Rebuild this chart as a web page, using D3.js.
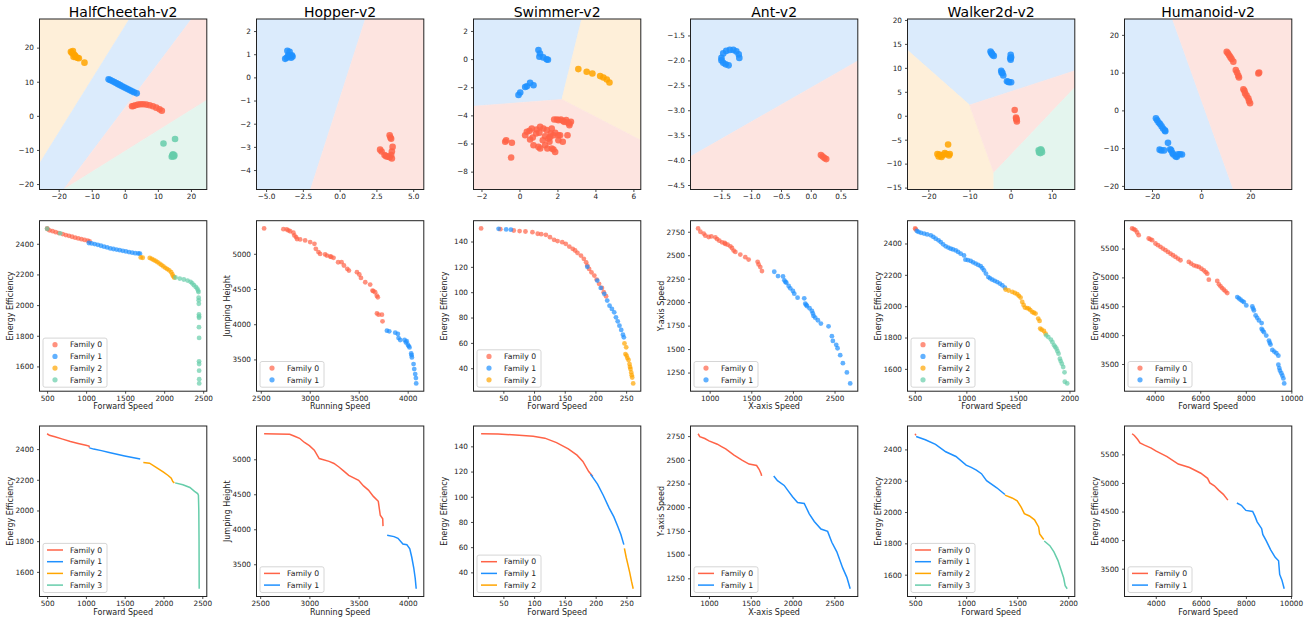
<!DOCTYPE html>
<html><head><meta charset="utf-8">
<script src="https://cdn.jsdelivr.net/npm/d3@7"></script>
<style>body{margin:0;background:#fff;} svg text{font-family:"DejaVu Sans",sans-serif;}</style>
</head><body><svg id="c" width="1315" height="617"></svg>
<script>
// ---------- shared ----------
const envNames = ["HalfCheetah-v2","Hopper-v2","Swimmer-v2","Ant-v2","Walker2d-v2","Humanoid-v2"];
const xLabels = ["Forward Speed","Running Speed","Forward Speed","X-axis Speed","Forward Speed","Forward Speed"];
const yLabels = ["Energy Efficiency","Jumping Height","Energy Efficiency","Y-axis Speed","Energy Efficiency","Energy Efficiency"];
const familyNames = ["Family 0","Family 1","Family 2","Family 3"];
const familyColors = ["#FF6347","#1E90FF","#FFA500","#66CDAA"];
const regionColors = ["#FDE4E0","#DBEBFC","#FEEFD9","#E4F5EE"];

// ---------- top row: embeddings ----------
const hcEXLim = [-25.8,24.8], hcEYLim = [-21.6,28.4];
const hcEXT = [-20,-10,0,10,20], hcEYT = [-20,-10,0,10,20];
const hcEmbed0 = [[2.2,2.8],[2.6,2.9],[3.2,3.1],[4,3.3],[4.8,3.4],[5.6,3.4],[6.5,3.3],[7.5,3.1],[8.5,2.8],[9.5,2.4],[10.5,1.9],[11.2,1.5]];
const hcEmbed1 = [[-4.9,10.7],[-4.4,10.5],[-3.8,10.2],[-3.2,9.9],[-2.6,9.6],[-2,9.3],[-1.4,9],[-0.8,8.7],[-0.2,8.4],[0.4,8.1],[1,7.8],[1.6,7.5],[2.2,7.2],[2.8,6.9],[3.6,6.6]];
const hcEmbed2 = [[-16.3,18.8],[-16,18.4],[-15.7,19],[-15.3,18],[-15,17.6],[-14.8,17.2],[-14.3,17],[-13.9,16.9],[-15.5,17.3],[-12.2,15.6]];
const hcEmbed3 = [[11.7,-8.1],[15.2,-6.8],[14.4,-11.5],[14.8,-11.9],[14.2,-12],[14.6,-11.3],[15,-11.6],[14.5,-11.7]];
const hcRegions = [
  [2,[[-25.8,-14],[1.4,28.4],[-25.8,28.4]]],
  [1,[[-25.8,-21.6],[-25.8,-14],[1.4,28.4],[20.2,28.4],[-18.5,-21.6]]],
  [0,[[-18.5,-21.6],[20.2,28.4],[24.8,28.4],[24.8,4.6]]],
  [3,[[-18.5,-21.6],[24.8,4.6],[24.8,-21.6]]]
];

const hpEXLim = [-5.65,5.72], hpEYLim = [-4.84,2.52];
const hpEXT = [-5,-2.5,0,2.5,5], hpEYT = [-4,-3,-2,-1,0,1,2];
const hpEmbed0 = [[3.4,-2.5],[3.5,-2.65],[3.45,-2.6],[3.6,-3.0],[3.55,-3.2],[3.5,-3.35],[3.4,-3.45],[3.25,-3.42],[3.05,-3.35],[2.85,-3.2],[2.75,-3.12],[3.55,-3.5],[3.15,-3.4]];
const hpEmbed1 = [[-3.55,1.15],[-3.4,1.1],[-3.5,0.95],[-3.25,0.95],[-3.3,0.85],[-3.6,0.85],[-3.7,0.8],[-3.45,0.9],[-3.2,0.9]];
const hpRegions = [
  [1,[[-5.65,-4.84],[-1.98,-4.84],[1.75,2.52],[-5.65,2.52]]],
  [0,[[-1.98,-4.84],[5.72,-4.84],[5.72,2.52],[1.75,2.52]]]
];

const swEXLim = [-2.42,6.39], swEYLim = [-9.27,2.85];
const swEXT = [-2,0,2,4,6], swEYT = [-8,-6,-4,-2,0,2];
const swEmbed0 = [[-0.75,-5.88],[-0.7,-5.77],[-0.4,-5.95],[-0.44,-7.0],[0.3,-5.41],[0.39,-5.17],[0.53,-5.1],[0.65,-4.93],[0.56,-5.72],[0.7,-5.57],[0.74,-6.12],[0.88,-5.29],[0.91,-5.0],[1.05,-5.24],[1.09,-4.82],[1.23,-5.77],[1.26,-4.93],[1.35,-5.48],[1.44,-5.05],[1.53,-5.65],[1.58,-5.88],[1.62,-5.53],[1.7,-4.93],[1.65,-5.29],[1.79,-5.41],[1.88,-5.24],[1.83,-4.29],[1.97,-4.29],[2.05,-4.34],[2.18,-4.29],[2.28,-4.39],[2.35,-4.46],[2.46,-4.34],[2.53,-4.51],[2.63,-4.58],[2.71,-4.46],[2.63,-4.7],[2.05,-5.41],[2.05,-5.77],[2.14,-5.41],[2.28,-5.88],[2.53,-5.41],[1.35,-6.12],[1.47,-6.36],[1.7,-6.36],[1.79,-6.43],[1.88,-6.6],[1.0,-6.24],[1.09,-6.36]];
const swEmbed1 = [[1.0,0.64],[1.08,0.4],[1.05,0.17],[1.25,0.12],[1.43,-0.02],[1.5,-0.05],[0.56,-1.69],[0.74,-1.86],[0.39,-1.93],[0.3,-1.98],[0.04,-2.38],[-0.05,-2.55]];
const swEmbed2 = [[3.1,-0.71],[3.54,-0.9],[3.84,-1.02],[4.25,-1.21],[4.42,-1.31],[4.6,-1.45],[4.74,-1.66]];
const swRegions = [
  [1,[[-2.42,-3.35],[2.23,-2.87],[3.28,2.85],[-2.42,2.85]]],
  [2,[[2.23,-2.87],[6.39,-5.77],[6.39,2.85],[3.28,2.85]]],
  [0,[[-2.42,-9.27],[6.39,-9.27],[6.39,-5.77],[2.23,-2.87],[-2.42,-3.35]]]
];

const anEXLim = [-2.02,0.79], anEYLim = [-4.59,-1.17];
const anEXT = [-1.5,-1.0,-0.5,0.0,0.5], anEYT = [-4.5,-4.0,-3.5,-3.0,-2.5,-2.0,-1.5];
const anEmbed0 = [[0.17,-3.9],[0.2,-3.93],[0.23,-3.96],[0.26,-3.98]];
const anEmbed1 = [[-1.47,-1.86],[-1.42,-1.81],[-1.36,-1.79],[-1.3,-1.79],[-1.25,-1.82],[-1.21,-1.88],[-1.2,-1.95],[-1.5,-1.95],[-1.5,-2.0],[-1.47,-2.05],[-1.43,-2.08],[-1.38,-2.1]];
const anRegions = [
  [1,[[-2.02,-3.93],[0.79,-2.01],[0.79,-1.17],[-2.02,-1.17]]],
  [0,[[-2.02,-4.59],[0.79,-4.59],[0.79,-2.01],[-2.02,-3.93]]]
];

const wkEXLim = [-25.06,15.57], wkEYLim = [-15.4,20.2];
const wkEXT = [-20,-10,0,10], wkEYT = [-15,-10,-5,0,5,10,15,20];
const wkEmbed0 = [[0.98,1.2],[1.3,-0.4],[1.4,-0.8],[1.5,-1.2],[1.35,-0.6]];
const wkEmbed1 = [[-4.9,13.4],[-4.7,13.1],[-4.4,12.7],[-4.1,12.5],[-4.6,13.0],[0,12.7],[0.1,12.2],[0,11.7],[-0.1,12.0],[-2.3,9.4],[-2.0,8.9],[-1.8,8.4],[-2.2,9.0],[-0.9,7.2],[-0.4,7.0],[0.1,7.0],[-0.6,7.1]];
const wkEmbed2 = [[-15.2,-6],[-17.8,-8],[-17.3,-8.1],[-16.8,-8.6],[-17,-8.3],[-16,-7.8],[-15.6,-8.0],[-14.8,-8.0],[-15,-8.3],[-16.4,-8.2],[-17.5,-8.5]];
const wkEmbed3 = [[6.8,-7.2],[7.5,-7.2],[7.2,-7.8],[7,-7.5],[7.6,-7.6],[6.9,-7.7],[7.3,-7.0]];
const wkRegions = [
  [1,[[-25.06,13.7],[-9.97,2.24],[15.57,9.4],[15.57,20.2],[-25.06,20.2]]],
  [2,[[-25.06,-15.4],[-4.1,-15.4],[-4.1,-11.9],[-9.97,2.24],[-25.06,13.7]]],
  [0,[[-9.97,2.24],[-4.1,-11.9],[15.57,5.9],[15.57,9.4]]],
  [3,[[-4.1,-15.4],[15.57,-15.4],[15.57,5.9],[-4.1,-11.9]]]
];

const hmEXLim = [-31.2,36.9], hmEYLim = [-20.95,24.2];
const hmEXT = [-20,0,20], hmEYT = [-20,-10,0,10,20];
const hmEmbed0 = [[10.4,15.5],[10.9,15.1],[11.4,14.6],[11.9,14.1],[12.4,13.6],[13.1,12.9],[14.1,10.7],[14.6,10],[15.1,9.2],[15.4,8.7],[17.2,5.6],[17.6,5.2],[17.9,4.5],[18.5,3.9],[19.2,3.2],[19.5,2.5],[19.9,1.9],[23.6,10],[23.3,9.8]];
const hmEmbed1 = [[-18.4,-2.1],[-17.9,-2.6],[-17.3,-3.2],[-16.7,-3.6],[-16.1,-4.2],[-15.5,-4.8],[-14.8,-5.3],[-14.6,-5.5],[-13.5,-8.6],[-16.9,-10.4],[-16.2,-10.6],[-15.1,-10.6],[-12.6,-10.3],[-12.2,-10.6],[-11.7,-11.3],[-11.3,-11.7],[-10.4,-12.2],[-9.9,-12.3],[-9.4,-11.6],[-8.6,-11.6],[-7.8,-11.7]];
const hmRegions = [
  [1,[[-31.2,-20.95],[13.1,-20.95],[-11.7,24.2],[-31.2,24.2]]],
  [0,[[13.1,-20.95],[36.9,-20.95],[36.9,24.2],[-11.7,24.2]]]
];

// ---------- middle row: objective scatter ----------
const hcXT = [500,1000,1500,2000,2500], hcYT = [1600,1800,2000,2200,2400];
const hcF0 = [[500,2500],[505,2496],[530,2488],[570,2482],[610,2476],[650,2470],[700,2463],[740,2457],[780,2452],[820,2446],[860,2440],[900,2435],[940,2430],[980,2425],[1020,2420],[1045,2415]];
const hcF1 = [[1035,2405],[1070,2402],[1110,2398],[1150,2393],[1190,2387],[1230,2381],[1270,2376],[1310,2370],[1350,2366],[1390,2362],[1430,2358],[1470,2354],[1510,2350],[1550,2346],[1590,2342],[1630,2339],[1670,2337],[1690,2335]];
const hcF2 = [[1700,2311],[1725,2309],[1815,2308],[1840,2302],[1865,2295],[1890,2288],[1915,2280],[1940,2271],[1965,2262],[1990,2252],[2015,2243],[2040,2235],[2065,2227],[2090,2215],[2105,2200],[2118,2188],[2128,2180]];
const hcF3 = [[500,2498],[667,2468],[2145,2180],[2200,2173],[2252,2167],[2300,2160],[2338,2152],[2360,2142],[2381,2130],[2405,2118],[2424,2108],[2435,2095],[2440,2085],[2442,2048],[2443,2031],[2444,2009],[2446,1939],[2447,1926],[2447,1917],[2446,1856],[2448,1786],[2447,1633],[2448,1616],[2448,1572],[2449,1517],[2449,1489]];

const hpXT = [2500,3000,3500,4000], hpYT = [3500,4000,4500,5000];
const hpF0 = [[2534,5360],[2731,5350],[2765,5346],[2782,5332],[2800,5320],[2833,5299],[2843,5261],[2860,5237],[2870,5210],[2902,5204],[2953,5190],[3004,5166],[3048,5142],[3062,5071],[3089,5024],[3106,5000],[3157,4991],[3175,4975],[3209,4962],[3220,4955],[3243,4943],[3290,4880],[3325,4881],[3349,4834],[3383,4786],[3400,4762],[3482,4739],[3506,4706],[3523,4658],[3567,4596],[3617,4563],[3641,4478],[3650,4470],[3668,4454],[3685,4406],[3695,4383],[3686,4154],[3703,4135],[3737,4135],[3743,4041]];
const hpF1 = [[3788,3908],[3812,3899],[3873,3880],[3900,3861],[3907,3804],[3924,3776],[3968,3776],[3982,3742],[3990,3760],[4002,3709],[4010,3690],[4019,3671],[4036,3586],[4040,3560],[4043,3529],[4060,3434],[4067,3363],[4077,3292],[4084,3235],[4087,3159]];

const swXT = [50,100,150,200,250], swYT = [40,60,80,100,120,140];
const swF0 = [[13.8,150.3],[45.1,149.7],[67,148.7],[76.5,148.2],[86,147.9],[97.4,147.4],[106,146.1],[111.7,145.8],[119.3,145.3],[126,143.4],[132.6,141.3],[138.3,140.3],[145.9,139.5],[151.6,138.2],[157.4,136],[163,134.2],[166.9,132.9],[170.7,131.1],[176.4,128.9],[181.1,126.3],[184.9,123.6],[186.8,121],[189.7,118.4],[193.5,115.7],[198.2,113.1],[202,110],[205.9,106.6],[210.6,103.4],[213.5,100],[217.3,96.8]];
const swF1 = [[42.3,150],[54.6,149.5],[62.3,149.3],[186.8,120],[203,109.2],[208.7,103.4],[214.4,98.7],[219.2,93.4],[223,89.4],[226.8,86.8],[230.6,84.1],[233.4,80.2],[236.3,77],[239.1,73.6],[242,70.2],[244.8,66.5],[246.3,64.4]];
const swF2 = [[247.3,59.6],[250.1,56.5],[248.9,51.2],[250.7,50],[252,48],[253.9,46.5],[255.5,43.3],[256.3,41],[257.1,39.4],[258.3,36.7],[259.1,34.5],[259.9,32.7],[261.5,28]];

const anXT = [1000,1500,2000,2500], anYT = [1250,1500,1750,2000,2250,2500,2750];
const anF0 = [[861,2785],[888,2750],[928,2730],[948,2708],[988,2694],[1020,2700],[1068,2690],[1089,2672],[1116,2655],[1149,2637],[1180,2630],[1188,2620],[1216,2612],[1248,2595],[1268,2577],[1288,2549],[1308,2535],[1368,2507],[1428,2479],[1468,2454],[1576,2430],[1588,2402],[1608,2374],[1628,2331]];
const anF1 = [[1776,2324],[1821,2278],[1881,2274],[1897,2232],[1910,2215],[1921,2207],[1949,2172],[1968,2147],[2000,2119],[2016,2090],[2056,2048],[2136,2041],[2148,1984],[2160,1970],[2168,1959],[2200,1935],[2228,1906],[2240,1880],[2248,1853],[2268,1835],[2300,1807],[2336,1772],[2428,1743],[2468,1638],[2480,1587],[2520,1545],[2536,1509],[2568,1435],[2600,1350],[2648,1251],[2688,1134]];

const wkXT = [500,1000,1500,2000], wkYT = [1600,1800,2000,2200,2400];
const wkF0 = [[503,2496],[510,2490]];
const wkF1 = [[520,2480],[536,2474],[560,2468],[590,2463],[620,2458],[655,2452],[680,2442],[703,2431],[730,2420],[752,2409],[775,2395],[800,2382],[825,2374],[848,2367],[870,2362],[897,2356],[920,2346],[945,2335],[977,2324],[991,2297],[1015,2294],[1042,2289],[1065,2280],[1090,2272],[1115,2263],[1139,2255],[1155,2243],[1171,2229],[1190,2208],[1213,2186],[1230,2178],[1252,2169],[1275,2162],[1300,2154],[1325,2144],[1349,2133],[1374,2118]];
const wkF2 = [[1381,2106],[1410,2100],[1446,2091],[1470,2084],[1494,2076],[1510,2066],[1526,2055],[1542,2027],[1555,2008],[1568,1991],[1590,1987],[1606,1985],[1620,1975],[1639,1963],[1655,1958],[1671,1953],[1697,1921],[1710,1906],[1716,1857],[1730,1850],[1752,1842],[1768,1825]];
const wkF3 = [[1775,1814],[1795,1803],[1820,1787],[1835,1770],[1851,1750],[1862,1740],[1874,1729],[1884,1713],[1894,1697],[1907,1665],[1915,1650],[1926,1633],[1939,1612],[1952,1578],[1955,1518],[1978,1507]];

const hmXT = [4000,6000,8000,10000], hmYT = [3500,4000,4500,5000,5500];
const hmF0 = [[3006,5848],[3080,5835],[3151,5819],[3225,5778],[3296,5732],[3736,5674],[3810,5660],[3886,5645],[4031,5587],[4140,5558],[4251,5529],[4360,5500],[4471,5471],[4580,5442],[4691,5413],[4800,5384],[4911,5355],[5020,5326],[5131,5297],[5496,5268],[5600,5240],[5716,5210],[5830,5195],[5936,5181],[6050,5150],[6156,5123],[6240,5090],[6306,5065],[6376,4961],[6746,4938],[6820,4880],[6891,4845],[6960,4815],[7036,4787],[7110,4758],[7186,4729]];
const hmF1 = [[7626,4659],[7700,4635],[7771,4613],[7850,4590],[7916,4573],[8022,4515],[8286,4497],[8320,4460],[8356,4428],[8431,4341],[8500,4300],[8576,4254],[8695,4208],[8695,4109],[8740,4080],[8796,4051],[8898,3993],[9016,3906],[9050,3870],[9086,3837],[9166,3744],[9250,3715],[9342,3686],[9430,3645],[9430,3489],[9470,3430],[9500,3384],[9560,3340],[9606,3297],[9650,3250],[9686,3163]];

// ---------- bottom row: family fronts (lines) ----------
const hcL0 = [[500,2500],[530,2490],[600,2480],[700,2465],[800,2450],[900,2437],[1000,2425],[1040,2420],[1045,2410]];
const hcL1 = [[1045,2408],[1100,2400],[1200,2390],[1300,2378],[1400,2366],[1500,2355],[1600,2345],[1700,2336]];
const hcL2 = [[1740,2312],[1820,2308],[1900,2283],[2000,2250],[2060,2228],[2100,2210],[2120,2188],[2140,2180]];
const hcL3 = [[2150,2180],[2250,2168],[2340,2150],[2400,2125],[2440,2110],[2450,2100],[2455,2000],[2458,1800],[2460,1490]];
const hpL0 = [[2540,5365],[2800,5358],[2850,5330],[2900,5300],[2950,5240],[3000,5195],[3050,5130],[3100,5010],[3200,4970],[3250,4940],[3300,4890],[3350,4830],[3400,4770],[3500,4700],[3550,4620],[3600,4560],[3650,4470],[3700,4400],[3720,4200],[3745,4150],[3748,4045]];
const hpL1 = [[3790,3915],[3860,3895],[3900,3870],[3950,3790],[3990,3780],[4020,3720],[4040,3600],[4060,3450],[4075,3300],[4085,3150]];
const swL0 = [[13.8,150],[41.3,149.8],[69.9,149],[98.4,148],[117.4,146.5],[136.4,143],[155.5,138],[169.7,133],[179.2,128],[188.7,120],[195.4,116]];
const swL1 = [[191.6,118],[203,110],[212.5,101],[222,91],[229.6,84],[236.3,76],[241,70],[245.8,62]];
const swL2 = [[246.7,59],[249.6,52],[252.5,46],[255.3,40],[258.2,33],[261,27]];
const anL0 = [[870,2775],[890,2745],[950,2725],[1000,2700],[1100,2665],[1150,2640],[1200,2615],[1300,2550],[1400,2495],[1480,2455],[1570,2440],[1600,2400],[1625,2350],[1630,2330]];
const anL1 = [[1775,2330],[1820,2280],[1900,2230],[1950,2170],[2000,2110],[2060,2050],[2140,2040],[2200,1930],[2260,1850],[2340,1770],[2420,1745],[2470,1630],[2530,1530],[2600,1360],[2650,1260],[2690,1140]];
const wkL0 = [[500,2500],[508,2490]];
const wkL1 = [[510,2482],[600,2462],[700,2432],[800,2385],[900,2355],[1000,2300],[1050,2285],[1100,2268],[1150,2245],[1200,2200],[1300,2155],[1380,2112]];
const wkL2 = [[1380,2108],[1450,2090],[1500,2072],[1540,2030],[1570,1990],[1620,1975],[1670,1950],[1710,1905],[1720,1860],[1760,1825]];
const wkL3 = [[1765,1815],[1820,1785],[1860,1745],[1900,1690],[1930,1630],[1955,1580],[1970,1530],[1990,1510]];
const hmL0 = [[2950,5860],[3050,5830],[3200,5760],[3300,5700],[3500,5660],[3800,5610],[4000,5560],[4500,5460],[5000,5330],[5500,5270],[6000,5170],[6300,5080],[6400,5000],[6600,4950],[6800,4870],[7000,4800],[7200,4700]];
const hmL1 = [[7600,4650],[7800,4610],[8000,4520],[8300,4500],[8400,4420],[8500,4320],[8700,4200],[8750,4100],[8900,3990],[9100,3830],[9300,3700],[9450,3640],[9500,3400],[9600,3300],[9700,3150]];

// ---------- assemble ----------
const panels = [
  {embed:[hcEmbed0,hcEmbed1,hcEmbed2,hcEmbed3], regions:hcRegions, exl:hcEXLim, eyl:hcEYLim, ext:hcEXT, eyt:hcEYT, exf:"d", eyf:"d", sc:[hcF0,hcF1,hcF2,hcF3], ln:[hcL0,hcL1,hcL2,hcL3], xt:hcXT, yt:hcYT},
  {embed:[hpEmbed0,hpEmbed1], regions:hpRegions, exl:hpEXLim, eyl:hpEYLim, ext:hpEXT, eyt:hpEYT, exf:".1f", eyf:"d", sc:[hpF0,hpF1], ln:[hpL0,hpL1], xt:hpXT, yt:hpYT},
  {embed:[swEmbed0,swEmbed1,swEmbed2], regions:swRegions, exl:swEXLim, eyl:swEYLim, ext:swEXT, eyt:swEYT, exf:"d", eyf:"d", sc:[swF0,swF1,swF2], ln:[swL0,swL1,swL2], xt:swXT, yt:swYT},
  {embed:[anEmbed0,anEmbed1], regions:anRegions, exl:anEXLim, eyl:anEYLim, ext:anEXT, eyt:anEYT, exf:".1f", eyf:".1f", sc:[anF0,anF1], ln:[anL0,anL1], xt:anXT, yt:anYT},
  {embed:[wkEmbed0,wkEmbed1,wkEmbed2,wkEmbed3], regions:wkRegions, exl:wkEXLim, eyl:wkEYLim, ext:wkEXT, eyt:wkEYT, exf:"d", eyf:"d", sc:[wkF0,wkF1,wkF2,wkF3], ln:[wkL0,wkL1,wkL2,wkL3], xt:wkXT, yt:wkYT},
  {embed:[hmEmbed0,hmEmbed1], regions:hmRegions, exl:hmEXLim, eyl:hmEYLim, ext:hmEXT, eyt:hmEYT, exf:"d", eyf:"d", sc:[hmF0,hmF1], ln:[hmL0,hmL1], xt:hmXT, yt:hmYT}
];

const svg = d3.select("#c");
svg.append("rect").attr("width",1315).attr("height",617).attr("fill","#fff");
const PW = 167.3, PH = 170.5;
const colX = d3.range(6).map(i => 39.5 + i*217);
const rowY = [19, 220.7, 426];
const TICKFONT = 7.3, LABELFONT = 8, LEGFONT = 7.7;

function padDomain(vals){ const [a,b] = d3.extent(vals); const d = (b-a)*0.05; return [a-d, b+d]; }

function drawAxes(g, xs, ys, xt, yt, xf, yf){
  const ax = g.append("g").attr("transform",`translate(0,${PH})`)
    .call(d3.axisBottom(xs).tickValues(xt).tickFormat(d3.format(xf)).tickSize(2.5).tickPadding(1.8));
  const ay = g.append("g")
    .call(d3.axisLeft(ys).tickValues(yt).tickFormat(d3.format(yf)).tickSize(2.5).tickPadding(3));
  [ax, ay].forEach(a => {
    a.select(".domain").remove();
    a.selectAll("text").attr("font-size",TICKFONT).attr("fill","#222").attr("font-family","DejaVu Sans");
    a.selectAll("line").attr("stroke","#222").attr("stroke-width",0.8);
  });
  g.append("rect").attr("width",PW).attr("height",PH).attr("fill","none").attr("stroke","#222").attr("stroke-width",1);
}

function axisLabels(g, xl, yl){
  g.append("text").attr("x",PW/2).attr("y",PH+18).attr("text-anchor","middle").attr("font-size",LABELFONT).attr("fill","#222").text(xl);
  g.append("text").attr("transform",`translate(-27,${PH/2}) rotate(-90)`).attr("text-anchor","middle").attr("font-size",LABELFONT).attr("fill","#222").text(yl);
}

function legend(g, n, kind){
  const bw = 64, bh = (n-1)*11.7 + 14;
  const lg = g.append("g").attr("transform",`translate(3.5,${PH-4-bh})`);
  lg.append("rect").attr("width",bw).attr("height",bh).attr("rx",2).attr("fill","#fff").attr("fill-opacity",0.8).attr("stroke","#ccc").attr("stroke-width",0.8);
  for(let i=0;i<n;i++){
    const cy = 6.6 + i*11.7;
    if(kind==="dot") lg.append("circle").attr("cx",12).attr("cy",cy).attr("r",2.6).attr("fill",familyColors[i]).attr("fill-opacity",0.7);
    else lg.append("line").attr("x1",4).attr("x2",20).attr("y1",cy).attr("y2",cy).attr("stroke",familyColors[i]).attr("stroke-width",1.5);
    lg.append("text").attr("x",27).attr("y",cy+2.8).attr("font-size",LEGFONT).attr("fill","#222").text(familyNames[i]);
  }
}

panels.forEach((p, i) => {
  // ---- top: embedding with regions ----
  {
    const g = svg.append("g").attr("transform",`translate(${colX[i]},${rowY[0]})`);
    const xs = d3.scaleLinear().domain(p.exl).range([0,PW]);
    const ys = d3.scaleLinear().domain(p.eyl).range([PH,0]);
    const cid = "clipTop"+i;
    g.append("clipPath").attr("id",cid).append("rect").attr("width",PW).attr("height",PH);
    const pg = g.append("g").attr("clip-path",`url(#${cid})`);
    p.regions.forEach(([fam, poly]) => {
      pg.append("path").attr("d", d3.line()(poly.map(q => [xs(q[0]), ys(q[1])])) + "Z")
        .attr("fill",regionColors[fam]).attr("stroke",regionColors[fam]).attr("stroke-width",0.6);
    });
    p.embed.forEach((pts, fam) => {
      pg.selectAll(null).data(pts).enter().append("circle")
        .attr("cx",d => xs(d[0])).attr("cy",d => ys(d[1])).attr("r",3.3)
        .attr("fill",familyColors[fam]).attr("fill-opacity",0.85);
    });
    drawAxes(g, xs, ys, p.ext, p.eyt, p.exf, p.eyf);
    g.append("text").attr("x",PW/2).attr("y",-2.5).attr("text-anchor","middle").attr("font-size",14).attr("fill","#000").text(envNames[i]);
  }
  // ---- middle: scatter ----
  {
    const g = svg.append("g").attr("transform",`translate(${colX[i]},${rowY[1]})`);
    const all = p.sc.flat();
    const xs = d3.scaleLinear().domain(padDomain(all.map(d=>d[0]))).range([0,PW]);
    const ys = d3.scaleLinear().domain(padDomain(all.map(d=>d[1]))).range([PH,0]);
    p.sc.forEach((pts, fam) => {
      g.selectAll(null).data(pts).enter().append("circle")
        .attr("cx",d => xs(d[0])).attr("cy",d => ys(d[1])).attr("r",2.4)
        .attr("fill",familyColors[fam]).attr("fill-opacity",0.7);
    });
    drawAxes(g, xs, ys, p.xt, p.yt, "d", "d");
    axisLabels(g, xLabels[i], yLabels[i]);
    legend(g, p.sc.length, "dot");
  }
  // ---- bottom: lines ----
  {
    const g = svg.append("g").attr("transform",`translate(${colX[i]},${rowY[2]})`);
    const all = p.ln.flat();
    const xs = d3.scaleLinear().domain(padDomain(all.map(d=>d[0]))).range([0,PW]);
    const ys = d3.scaleLinear().domain(padDomain(all.map(d=>d[1]))).range([PH,0]);
    const line = d3.line().x(d => xs(d[0])).y(d => ys(d[1]));
    p.ln.forEach((pts, fam) => {
      g.append("path").attr("d", line(pts)).attr("fill","none").attr("stroke",familyColors[fam]).attr("stroke-width",1.5);
    });
    drawAxes(g, xs, ys, p.xt, p.yt, "d", "d");
    axisLabels(g, xLabels[i], yLabels[i]);
    legend(g, p.ln.length, "line");
  }
});
</script></body></html>
